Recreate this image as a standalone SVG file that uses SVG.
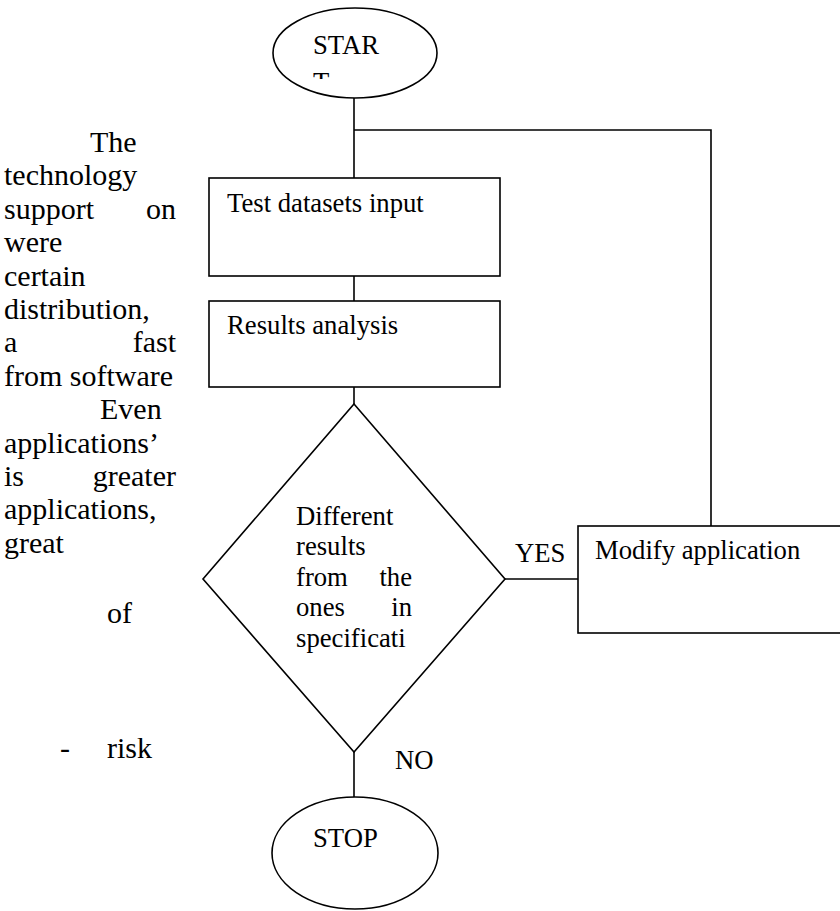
<svg xmlns="http://www.w3.org/2000/svg" width="840" height="911" viewBox="0 0 840 911">
<style>
.s{fill:none;stroke:#000;stroke-width:1.6}
.n{fill:#fff;stroke:#000;stroke-width:1.6}
.t{font-family:'Liberation Serif','Times New Roman',serif;font-size:26.7px;fill:#000}
.p{font-family:'Liberation Serif','Times New Roman',serif;font-size:30px;fill:#000}
</style>
<defs>
<clipPath id="startclip"><rect x="260" y="0" width="200" height="79"/></clipPath>
</defs>
<rect width="840" height="911" fill="#fff"/>
<g id="connectors">
<path class="s" d="M354,98 V178"/>
<path class="s" d="M354,130 H711 V526"/>
<path class="s" d="M354,276 V301"/>
<path class="s" d="M354,387 V404"/>
<path class="s" d="M505,579 H578"/>
<path class="s" d="M354,752 V797"/>
</g>
<g id="start">
<ellipse class="n" cx="355" cy="53" rx="82" ry="45"/>
<g clip-path="url(#startclip)">
<text class="t" x="313" y="54">STAR</text>
<text class="t" x="313" y="91">T</text>
</g>
</g>
<g id="test-input">
<rect class="n" x="209" y="178" width="291" height="98"/>
<text class="t" x="227" y="212">Test datasets input</text>
</g>
<g id="results-analysis">
<rect class="n" x="209" y="301" width="291" height="86"/>
<text class="t" x="227" y="334">Results analysis</text>
</g>
<g id="decision">
<polygon class="n" points="354,404 505,579 354,752 203,579"/>
<text class="t" x="296" y="525">Different</text>
<text class="t" x="296" y="555">results</text>
<text class="t" x="296" y="586">from</text>
<text class="t" x="412" y="586" text-anchor="end">the</text>
<text class="t" x="296" y="616">ones</text>
<text class="t" x="412" y="616" text-anchor="end">in</text>
<text class="t" x="296" y="647">specificati</text>
</g>
<g id="modify">
<rect class="n" x="578" y="526" width="270" height="107"/>
<text class="t" x="595" y="559">Modify application</text>
</g>
<g id="stop">
<ellipse class="n" cx="355" cy="853" rx="83" ry="56"/>
<text class="t" x="313" y="847">STOP</text>
</g>
<g id="labels">
<text class="t" x="515" y="562">YES</text>
<text class="t" x="395" y="769">NO</text>
</g>
<g id="side-text">
<text class="p" x="90" y="152">The</text>
<text class="p" x="4" y="185">technology</text>
<text class="p" x="4" y="219">support</text>
<text class="p" x="176" y="219" text-anchor="end">on</text>
<text class="p" x="4" y="252">were</text>
<text class="p" x="4" y="286">certain</text>
<text class="p" x="4" y="319">distribution,</text>
<text class="p" x="4" y="352">a</text>
<text class="p" x="176" y="352" text-anchor="end">fast</text>
<text class="p" x="4" y="386">from software</text>
<text class="p" x="100" y="419">Even</text>
<text class="p" x="4" y="453">applications’</text>
<text class="p" x="4" y="486">is</text>
<text class="p" x="176" y="486" text-anchor="end">greater</text>
<text class="p" x="4" y="519">applications,</text>
<text class="p" x="4" y="553">great</text>
<text class="p" x="107" y="623">of</text>
<text class="p" x="60" y="758">-</text>
<text class="p" x="107" y="758">risk</text>
</g>
</svg>
